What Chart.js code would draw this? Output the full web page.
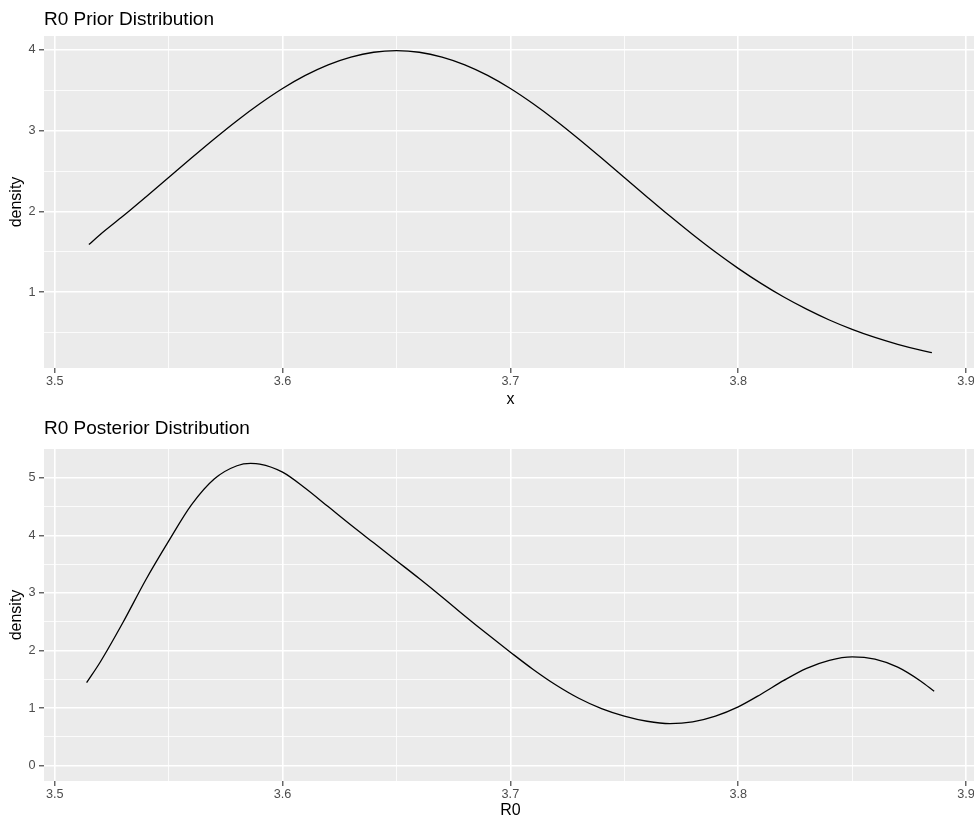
<!DOCTYPE html>
<html>
<head>
<meta charset="utf-8">
<title>R0 Distributions</title>
<script src="https://cdn.jsdelivr.net/npm/chart.js@4/dist/chart.umd.min.js"></script>
<style>
  html, body { margin: 0; padding: 0; background: #fff; overflow: hidden; width: 974px; height: 818px; }
  canvas { position: absolute; left: 0; }
  #priorChart { top: 0; }
  #posteriorChart { top: 410px; }
</style>
</head>
<body>
<canvas id="priorChart" width="990" height="410"></canvas>
<canvas id="posteriorChart" width="990" height="410"></canvas>
<script>
// prior density curve
const priorX = [3.515, 3.52, 3.53, 3.54, 3.55, 3.56, 3.57, 3.58, 3.59, 3.60,
  3.61, 3.62, 3.63, 3.64, 3.65, 3.66, 3.67, 3.68, 3.69, 3.70,
  3.71, 3.72, 3.73, 3.74, 3.75, 3.76, 3.77, 3.78, 3.79, 3.80,
  3.81, 3.82, 3.83, 3.84, 3.85, 3.86, 3.87, 3.88, 3.885];
const priorDensity = [1.59, 1.714, 1.942, 2.179, 2.420, 2.661, 2.897, 3.123, 3.332, 3.521,
  3.683, 3.814, 3.910, 3.970, 3.989, 3.970, 3.910, 3.814, 3.683, 3.521,
  3.332, 3.123, 2.897, 2.661, 2.420, 2.179, 1.942, 1.714, 1.497, 1.295,
  1.109, 0.940, 0.790, 0.656, 0.540, 0.440, 0.355, 0.283, 0.252];

// posterior density curve
const posteriorX = [3.514, 3.52, 3.53, 3.54, 3.55, 3.56, 3.57, 3.58, 3.586, 3.59,
  3.60, 3.61, 3.62, 3.63, 3.64, 3.65, 3.66, 3.67, 3.68, 3.69,
  3.70, 3.71, 3.72, 3.73, 3.74, 3.75, 3.76, 3.77, 3.78, 3.79,
  3.80, 3.81, 3.82, 3.83, 3.84, 3.85, 3.86, 3.87, 3.88, 3.886];
const posteriorDensity = [1.44, 1.80, 2.49, 3.23, 3.90, 4.53, 4.98, 5.21, 5.25, 5.24,
  5.10, 4.82, 4.50, 4.18, 3.87, 3.56, 3.25, 2.93, 2.60, 2.28,
  1.97, 1.67, 1.40, 1.17, 0.99, 0.86, 0.77, 0.73, 0.76, 0.86,
  1.02, 1.24, 1.48, 1.69, 1.83, 1.89, 1.85, 1.71, 1.47, 1.29];

// axis breaks
const xTicks = [3.5, 3.6, 3.7, 3.8, 3.9];
const xTickLabels = ["3.5", "3.6", "3.7", "3.8", "3.9"];
const xMinor = [3.55, 3.65, 3.75, 3.85];

const priorYTicks = [1, 2, 3, 4];
const priorYLabels = ["1", "2", "3", "4"];
const priorYMinor = [0.5, 1.5, 2.5, 3.5];

const postYTicks = [0, 1, 2, 3, 4, 5];
const postYLabels = ["0", "1", "2", "3", "4", "5"];
const postYMinor = [0.5, 1.5, 2.5, 3.5, 4.5];

const FONT = "'Liberation Sans', Arial, Helvetica, sans-serif";

// ggplot-like grey panel behind the grid
const panelBackground = {
  id: "panelBackground",
  beforeDraw(chart) {
    const { ctx, chartArea: a } = chart;
    ctx.save();
    ctx.fillStyle = "#EBEBEB";
    ctx.fillRect(a.left, a.top, a.right - a.left, a.bottom - a.top);
    ctx.restore();
  },
};

// plot title, left aligned with the panel
const panelTitle = {
  id: "panelTitle",
  afterDraw(chart, args, opts) {
    const { ctx, chartArea: a } = chart;
    ctx.save();
    ctx.font = "19px " + FONT;
    ctx.fillStyle = "#000";
    ctx.textAlign = "left";
    ctx.textBaseline = "alphabetic";
    ctx.fillText(opts.text, a.left, opts.baseline);
    ctx.restore();
  },
};

function buildTicks(major, labels, minor) {
  const list = major.map((v, i) => ({ value: v, lbl: labels[i], minor: false }));
  minor.forEach((v) => list.push({ value: v, lbl: "", minor: true }));
  return list.sort((a, b) => a.value - b.value);
}

function gridOpts() {
  return {
    color: "#FFFFFF",
    lineWidth: (c) => (c.tick && c.tick.minor ? 0.8 : 1.6),
    tickLength: 5,
    tickColor: (c) => (c.tick && c.tick.minor ? "rgba(0,0,0,0)" : "#333333"),
    tickWidth: 1.1,
  };
}

function makeChart(id, cfg) {
  const points = cfg.xs.map((x, i) => ({ x: x, y: cfg.ys[i] }));
  const xList = buildTicks(xTicks, xTickLabels, xMinor);
  const yList = buildTicks(cfg.yTicks, cfg.yLabels, cfg.yMinor);

  return new Chart(document.getElementById(id), {
    type: "line",
    data: {
      datasets: [{
        data: points,
        borderColor: "#000000",
        borderWidth: 1.3,
        pointRadius: 0,
        fill: false,
        cubicInterpolationMode: "monotone",
      }],
    },
    plugins: [panelBackground, panelTitle],
    options: {
      responsive: false,
      animation: false,
      devicePixelRatio: 1,
      layout: { padding: { top: cfg.padTop, right: 13, bottom: cfg.padBottom, left: 0 } },
      plugins: {
        legend: { display: false },
        tooltip: { enabled: false },
        panelTitle: { text: cfg.title, baseline: cfg.titleBaseline },
      },
      scales: {
        x: {
          type: "linear",
          min: 3.4953,
          max: 3.9048,
          border: { display: false },
          grid: gridOpts(),
          afterBuildTicks: (s) => { s.ticks = xList.map((t) => ({ ...t })); },
          afterFit: (s) => { s.height = cfg.xHeight; },
          ticks: {
            autoSkip: false,
            maxRotation: 0,
            padding: 1,
            color: "#4D4D4D",
            font: { family: FONT, size: 12.7 },
            callback: (v, i, ticks) => ticks[i].lbl,
          },
          title: {
            display: true,
            text: cfg.xTitle,
            color: "#000",
            font: { family: FONT, size: 16 },
            padding: { top: 0, bottom: 0 },
          },
        },
        y: {
          type: "linear",
          min: cfg.yMin,
          max: cfg.yMax,
          border: { display: false },
          grid: gridOpts(),
          afterBuildTicks: (s) => { s.ticks = yList.map((t) => ({ ...t })); },
          afterFit: (s) => { s.width = 44; },
          ticks: {
            autoSkip: false,
            padding: 3.5,
            color: "#4D4D4D",
            font: { family: FONT, size: 12.7 },
            callback: (v, i, ticks) => ticks[i].lbl,
          },
          title: {
            display: true,
            text: "density",
            color: "#000",
            font: { family: FONT, size: 16 },
            padding: { top: 7, bottom: 0 },
          },
        },
      },
    },
  });
}

makeChart("priorChart", {
  xs: priorX,
  ys: priorDensity,
  title: "R0 Prior Distribution",
  titleBaseline: 25,
  xTitle: "x",
  yTicks: priorYTicks,
  yLabels: priorYLabels,
  yMinor: priorYMinor,
  yMin: 0.062,
  yMax: 4.171,
  padTop: 36,
  padBottom: 1,
  xHeight: 41,
});

makeChart("posteriorChart", {
  xs: posteriorX,
  ys: posteriorDensity,
  title: "R0 Posterior Distribution",
  titleBaseline: 24,
  xTitle: "R0",
  yTicks: postYTicks,
  yLabels: postYLabels,
  yMinor: postYMinor,
  yMin: -0.268,
  yMax: 5.501,
  padTop: 39,
  padBottom: 0,
  xHeight: 39,
});
</script>
</body>
</html>
